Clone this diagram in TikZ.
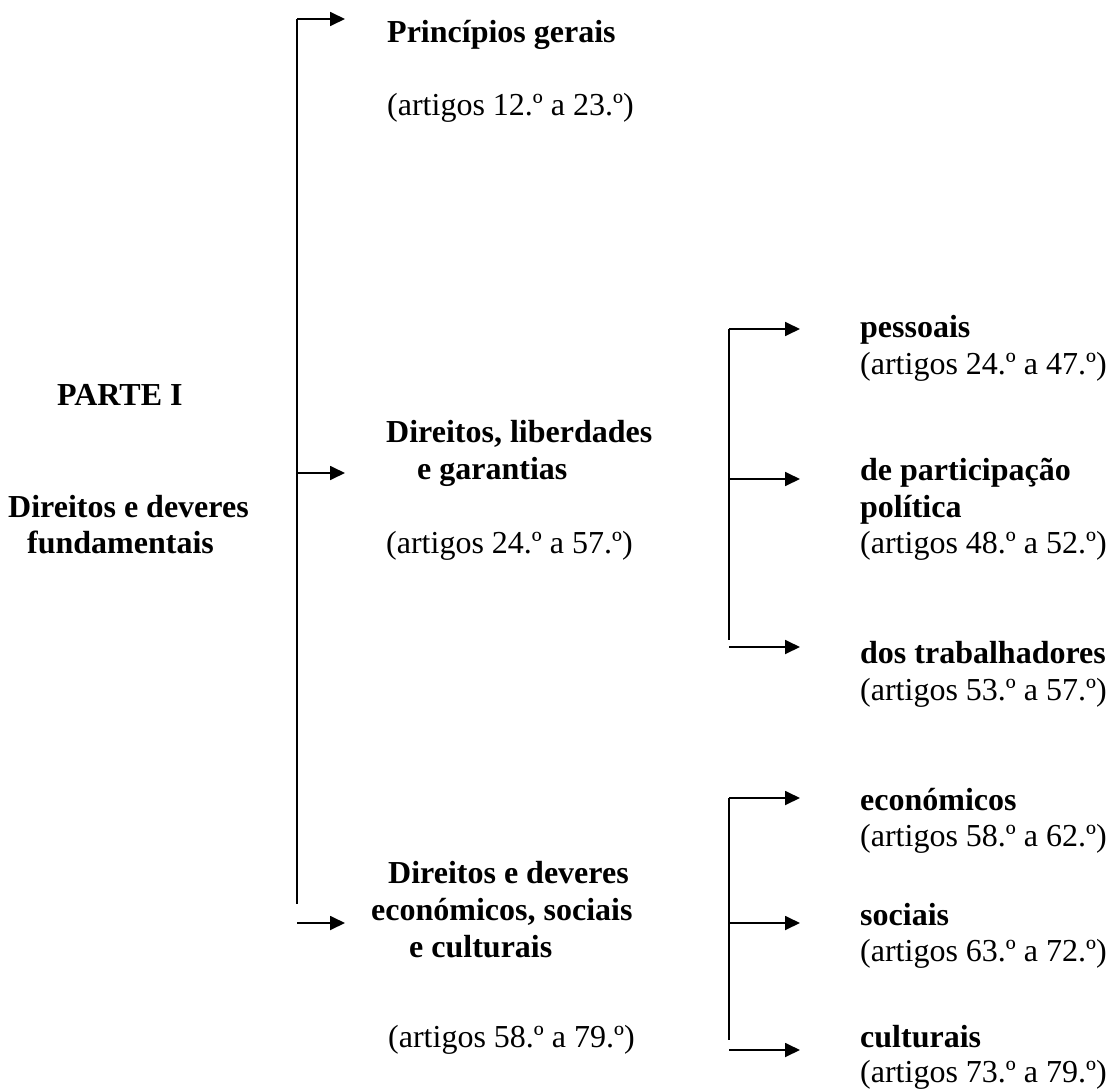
\documentclass[tikz,border=0pt]{standalone}
\usepackage{fontspec}
\setmainfont{Liberation Serif}
\usetikzlibrary{arrows.meta}
\begin{document}
\begin{tikzpicture}[x=1pt,y=-1pt,
  txt/.style={anchor=base west,inner sep=0pt,font=\fontsize{32}{37}\selectfont},
  bld/.style={anchor=base west,inner sep=0pt,font=\fontsize{32}{37}\selectfont\bfseries},
  trunk/.style={line width=2pt},
  arr/.style={line width=1.8pt,-{Triangle[length=15pt,width=14pt]}}]
\useasboundingbox[fill=white] (0,0) rectangle (1112,1092);

% main trunk
\coordinate (m0) at (297,19);
\coordinate (m1) at (297,473);
\coordinate (mend) at (297,904);
\coordinate (m2) at (297,923);
\coordinate (t0) at (345,19);
\coordinate (t1) at (345,473);
\coordinate (t2) at (345,923);
\draw[trunk] (m0) -- (mend);
\draw[arr] (m0) -- (t0);
\draw[arr] (m1) -- (t1);
\draw[arr] (m2) -- (t2);

% second trunk
\coordinate (a0) at (729,329);
\coordinate (a1) at (729,479);
\coordinate (aend) at (729,640);
\coordinate (a2) at (729,647);
\coordinate (ta0) at (800,329);
\coordinate (ta1) at (800,479);
\coordinate (ta2) at (800,647);
\draw[trunk] (a0) -- (aend);
\draw[arr] (a0) -- (ta0);
\draw[arr] (a1) -- (ta1);
\draw[arr] (a2) -- (ta2);

% third trunk
\coordinate (b0) at (729,798);
\coordinate (b1) at (729,923);
\coordinate (bend) at (729,1040);
\coordinate (b2) at (729,1050);
\coordinate (tb0) at (800,798);
\coordinate (tb1) at (800,923);
\coordinate (tb2) at (800,1050);
\draw[trunk] (b0) -- (bend);
\draw[arr] (b0) -- (tb0);
\draw[arr] (b1) -- (tb1);
\draw[arr] (b2) -- (tb2);

% left
\node[bld] (parte) at (57,405) {PARTE I};
\node[bld] (dd1) at (8,517) {Direitos e deveres};
\node[bld] (dd2) at (27,553) {fundamentais};

% top
\node[bld] (pg) at (387,42) {Princípios gerais};
\node[txt] (pga) at (387,115) {(artigos 12.º a 23.º)};

% middle
\node[bld] (dl1) at (386,442) {Direitos, liberdades};
\node[bld] (dl2) at (417,479) {e garantias};
\node[txt] (dla) at (386,553) {(artigos 24.º a 57.º)};

\node[bld] (pe) at (860,337) {pessoais};
\node[txt] (pea) at (860,374) {(artigos 24.º a 47.º)};
\node[bld] (pp1) at (860,480) {de participação};
\node[bld] (pp2) at (860,517) {política};
\node[txt] (ppa) at (860,553) {(artigos 48.º a 52.º)};
\node[bld] (tr) at (860,663) {dos trabalhadores};
\node[txt] (tra) at (860,700) {(artigos 53.º a 57.º)};

% bottom
\node[bld] (de1) at (388,883) {Direitos e deveres};
\node[bld] (de2) at (371,920) {económicos, sociais};
\node[bld] (de3) at (409,957) {e culturais};
\node[txt] (dea) at (388,1047) {(artigos 58.º a 79.º)};

\node[bld] (ec) at (860,810) {económicos};
\node[txt] (eca) at (860,846) {(artigos 58.º a 62.º)};
\node[bld] (so) at (860,925) {sociais};
\node[txt] (soa) at (860,961) {(artigos 63.º a 72.º)};
\node[bld] (cu) at (860,1047) {culturais};
\node[txt] (cua) at (860,1082) {(artigos 73.º a 79.º)};
\end{tikzpicture}
\end{document}
